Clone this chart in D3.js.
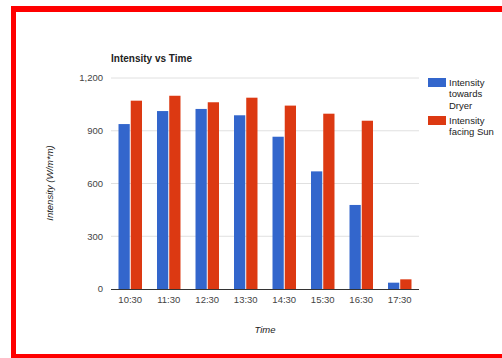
<!DOCTYPE html>
<html>
<head>
<meta charset="utf-8">
<script src="https://cdn.jsdelivr.net/npm/d3@7"></script>
<style>
  html, body { margin: 0; padding: 0; background: #fff; }
  svg { display: block; font-family: Arial, "Liberation Sans", sans-serif; }
</style>
</head>
<body>
<svg id="chart" width="502" height="358"></svg>
<script>
// Measurement times and the two intensity series (W/m*m)
const times = ["10:30", "11:30", "12:30", "13:30", "14:30", "15:30", "16:30", "17:30"];
const towardsDryer = [938, 1012, 1024, 988, 866, 669, 478, 36];
const facingSun = [1071, 1099, 1062, 1088, 1043, 997, 957, 55];
const seriesNames = ["Intensity towards Dryer", "Intensity facing Sun"];
const seriesColors = ["#3366cc", "#dc3912"];
const yTicks = [0, 300, 600, 900, 1200];

const svg = d3.select("#chart");

// Red frame around the card
svg.append("rect").attr("x", 11).attr("y", 6).attr("width", 5).attr("height", 351).attr("fill", "#ff0000");
svg.append("rect").attr("x", 11).attr("y", 6).attr("width", 491).attr("height", 6).attr("fill", "#ff0000");
svg.append("rect").attr("x", 11).attr("y", 354).attr("width", 491).attr("height", 4).attr("fill", "#ff0000");

const plot = { left: 111, right: 419, top: 78, bottom: 289 };

const x = d3.scaleBand().domain(times).range([plot.left, plot.right]).paddingInner(0.39).paddingOuter(0.195);
const xs = d3.scaleBand().domain([0, 1]).range([0, x.bandwidth()]).paddingInner(0.08);
const y = d3.scaleLinear().domain([0, 1200]).range([plot.bottom, plot.top]);

// Horizontal gridlines
svg.append("g").selectAll("line").data(yTicks.filter(t => t > 0)).join("line")
  .attr("x1", plot.left).attr("x2", plot.right)
  .attr("y1", d => y(d)).attr("y2", d => y(d))
  .attr("stroke", "#e0e0e0").attr("stroke-width", 1);

// Y tick labels
svg.append("g").selectAll("text").data(yTicks).join("text")
  .attr("x", 103).attr("y", d => y(d)).attr("dy", "0.35em")
  .attr("text-anchor", "end").attr("font-size", 9.5).attr("fill", "#444")
  .text(d => d3.format(",")(d));

// Bars
const rows = times.map((t, i) => ({ t, vals: [towardsDryer[i], facingSun[i]] }));
const groups = svg.append("g").selectAll("g").data(rows).join("g")
  .attr("transform", d => `translate(${x(d.t)},0)`);
groups.selectAll("rect").data(d => d.vals.map((v, k) => ({ v, k }))).join("rect")
  .attr("x", d => xs(d.k)).attr("width", xs.bandwidth())
  .attr("y", d => y(d.v)).attr("height", d => y(0) - y(d.v))
  .attr("fill", d => seriesColors[d.k]);

// Baseline
svg.append("line").attr("x1", plot.left).attr("x2", plot.right)
  .attr("y1", plot.bottom + 0.5).attr("y2", plot.bottom + 0.5)
  .attr("stroke", "#333").attr("stroke-width", 1);

// X axis labels
const xAxis = d3.axisBottom(x).tickSize(0).tickPadding(7);
const gx = svg.append("g").attr("transform", `translate(0,${plot.bottom})`).call(xAxis);
gx.select(".domain").remove();
gx.selectAll("text").attr("font-size", 9.5).attr("fill", "#444").attr("font-family", "Arial, 'Liberation Sans', sans-serif");

// Title
svg.append("text").attr("x", 111).attr("y", 62)
  .attr("font-size", 10).attr("font-weight", "bold").attr("fill", "#222")
  .text("Intensity vs Time");

// Axis titles
svg.append("text").attr("x", 265).attr("y", 333)
  .attr("text-anchor", "middle").attr("font-size", 9.5).attr("font-style", "italic").attr("fill", "#222")
  .text("Time");
svg.append("text").attr("transform", "translate(53,183) rotate(-90)")
  .attr("text-anchor", "middle").attr("font-size", 9.5).attr("font-style", "italic").attr("fill", "#222")
  .text("Intensity (W/m*m)");

// Legend
const legendLines = [["Intensity", "towards", "Dryer"], ["Intensity", "facing Sun"]];
const legendTop = [78, 116];
const legend = svg.append("g").selectAll("g").data(seriesNames).join("g");
legend.append("rect").attr("x", 428).attr("y", (d, i) => legendTop[i])
  .attr("width", 18).attr("height", 9).attr("fill", (d, i) => seriesColors[i]);
legend.append("text").attr("x", 449).attr("font-size", 9.5).attr("fill", "#222")
  .selectAll("tspan").data((d, i) => legendLines[i].map(l => ({ l, i }))).join("tspan")
  .attr("x", 449).attr("y", (d, j) => legendTop[d.i] + 7.5 + j * 11.5)
  .text(d => d.l);
</script>
</body>
</html>
